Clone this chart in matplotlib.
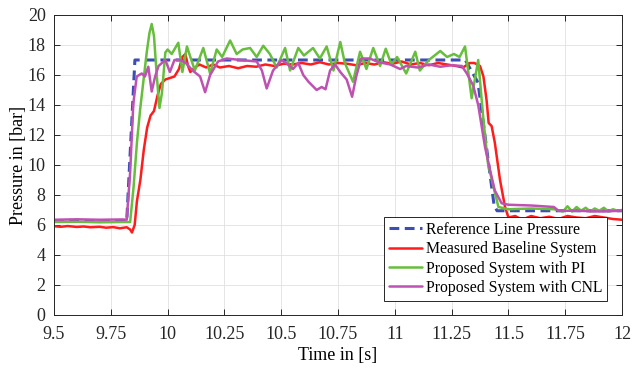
import matplotlib
matplotlib.use("Agg")
import matplotlib.pyplot as plt

# --- dados ---
t_ref = [9.5, 9.82, 9.856, 11.31, 11.366, 11.437, 11.45, 12.0]
p_ref = [6.25, 6.25, 17.0, 17.0, 15.5, 7.3, 6.95, 6.95]

t_base = [9.5, 9.53, 9.56, 9.6, 9.63, 9.66, 9.7, 9.73, 9.76, 9.79,
          9.82, 9.835, 9.843, 9.855, 9.865, 9.88, 9.895, 9.91, 9.925, 9.94,
          9.955, 9.97, 9.99, 10.01, 10.03, 10.05, 10.065, 10.078, 10.09, 10.1,
          10.12, 10.14, 10.17, 10.2, 10.23, 10.27, 10.31, 10.35, 10.39, 10.43,
          10.47, 10.51, 10.55, 10.59, 10.63, 10.67, 10.71, 10.75, 10.79, 10.83,
          10.87, 10.91, 10.95, 10.99, 11.03, 11.07, 11.11, 11.15, 11.19, 11.23,
          11.27, 11.3, 11.33, 11.35, 11.375, 11.39, 11.404, 11.413, 11.426, 11.44,
          11.463, 11.485, 11.5, 11.53, 11.56, 11.6, 11.64, 11.68, 11.72, 11.76,
          11.8, 11.84, 11.88, 11.92, 11.96, 12.0]
p_base = [5.92, 5.88, 5.93, 5.87, 5.9, 5.85, 5.88, 5.82, 5.86, 5.78,
          5.85, 5.7, 5.5, 6.0, 7.6, 9.0, 11.0, 12.5, 13.3, 13.6,
          14.6, 15.4, 15.7, 15.8, 15.9, 16.4, 17.2, 17.4, 16.6, 16.2,
          16.5, 16.7, 16.5, 16.7, 16.5, 16.6, 16.45, 16.6, 16.55, 16.7,
          16.6, 16.75, 16.7, 16.8, 16.7, 16.85, 16.7, 16.8, 16.75, 16.65,
          16.8, 16.7, 16.85, 16.75, 16.9, 16.7, 16.8, 16.65, 16.8, 16.7,
          16.6, 16.5, 16.8, 16.8, 16.6, 15.9, 14.3, 12.8, 12.6, 11.5,
          9.0, 7.2, 6.5, 6.6, 6.35, 6.6, 6.45, 6.55, 6.4, 6.6,
          6.5, 6.45, 6.6, 6.5, 6.4, 6.35]

t_pi = [9.5, 9.6, 9.7, 9.8, 9.835, 9.85, 9.865, 9.879, 9.895, 9.908,
        9.92, 9.93, 9.94, 9.952, 9.964, 9.975, 9.99, 10.0, 10.018, 10.047,
        10.065, 10.085, 10.1, 10.12, 10.157, 10.187, 10.216, 10.24, 10.275, 10.304,
        10.33, 10.363, 10.392, 10.421, 10.45, 10.48, 10.517, 10.539, 10.575, 10.6,
        10.64, 10.67, 10.70, 10.73, 10.76, 10.78, 10.816, 10.847, 10.875, 10.905,
        10.935, 10.96, 10.985, 11.01, 11.05, 11.09, 11.11, 11.15, 11.2, 11.23,
        11.26, 11.285, 11.309, 11.338, 11.367, 11.39, 11.41, 11.434, 11.456, 11.5,
        11.6, 11.7, 11.74, 11.76, 11.78, 11.8, 11.82, 11.84, 11.86, 11.88,
        11.9, 11.92, 11.94, 11.96, 11.98, 12.0]
p_pi = [6.2, 6.22, 6.18, 6.2, 6.2, 8.5, 11.5, 13.7, 15.8, 17.5,
        18.8, 19.4, 18.6, 16.0, 13.8, 14.8, 17.5, 17.7, 17.4, 18.15,
        16.2, 17.9, 17.2, 16.3, 17.8, 16.1, 17.7, 17.2, 18.3, 17.4,
        17.7, 17.8, 17.2, 17.95, 17.4, 16.5, 17.8, 16.3, 17.8, 17.3,
        17.8, 17.1, 17.9, 16.3, 18.2, 16.8, 15.55, 17.55, 16.4, 17.8,
        16.6, 17.75, 16.7, 17.2, 16.1, 17.55, 16.3, 17.0, 17.6, 17.2,
        17.4, 17.2, 17.9, 14.45, 17.0, 13.0, 10.1, 8.55, 7.2, 7.05,
        7.1, 7.05, 6.9, 7.25, 6.9, 7.2, 6.95, 7.15, 6.9, 7.1,
        6.95, 7.15, 6.9, 7.05, 6.95, 7.0]

t_cnl = [9.5, 9.6, 9.7, 9.8, 9.82, 9.835, 9.849, 9.864, 9.886, 9.9,
         9.915, 9.93, 9.945, 9.96, 9.99, 10.01, 10.03, 10.055, 10.08, 10.11,
         10.143, 10.165, 10.187, 10.222, 10.26, 10.32, 10.392, 10.415, 10.436, 10.464,
         10.502, 10.53, 10.552, 10.575, 10.597, 10.62, 10.656, 10.678, 10.695, 10.715,
         10.737, 10.76, 10.788, 10.812, 10.83, 10.852, 10.89, 10.93, 10.98, 11.023,
         11.05, 11.1, 11.15, 11.2, 11.25, 11.295, 11.317, 11.345, 11.367, 11.397,
         11.419, 11.44, 11.47, 11.5, 11.6, 11.7, 11.72, 11.8, 11.9, 12.0]
p_cnl = [6.35, 6.38, 6.35, 6.37, 6.35, 9.5, 14.1, 15.9, 16.1, 15.9,
         16.55, 14.9, 15.9, 16.6, 17.0, 16.2, 17.0, 17.0, 16.8, 16.3,
         15.9, 14.85, 16.0, 16.9, 17.1, 17.0, 16.9, 16.3, 15.1, 16.3,
         17.0, 16.7, 16.4, 16.8, 16.0, 15.55, 15.0, 15.2, 15.05, 16.3,
         16.7, 16.2, 15.7, 14.55, 15.9, 17.1, 17.1, 16.85, 16.7, 16.4,
         16.6, 16.5, 16.7, 16.55, 16.65, 16.6, 16.1, 15.3, 14.0, 11.2,
         9.67, 8.3, 7.45, 7.35, 7.3, 7.2, 6.95, 6.95, 6.9, 6.95]

x_ticks = [9.5, 9.75, 10, 10.25, 10.5, 10.75, 11, 11.25, 11.5, 11.75, 12]
x_labels = ["9.5", "9.75", "10", "10.25", "10.5", "10.75", "11", "11.25", "11.5", "11.75", "12"]

# --- plotagem ---
plt.rcParams['font.family'] = ['Liberation Serif', 'DejaVu Serif']
plt.rcParams['font.size'] = 13

fig = plt.figure(figsize=(6.37, 3.73), dpi=100)
ax = fig.add_axes([0.0848, 0.1555, 0.8917, 0.8043])

estilo = dict(lw=1.8, solid_joinstyle='round', solid_capstyle='round')
ax.plot(t_ref, p_ref, color='#3C4DB5', lw=2.2, ls=(0, (3.2, 1.8)), label='Reference Line Pressure')
ax.plot(t_base, p_base, color='#FF1C1C', label='Measured Baseline System', **estilo)
ax.plot(t_pi, p_pi, color='#66BE3C', label='Proposed System with PI', **estilo)
ax.plot(t_cnl, p_cnl, color='#BE52B2', label='Proposed System with CNL', **estilo)

ax.set_xlim(9.5, 12)
ax.set_ylim(0, 20)
ax.set_xticks(x_ticks)
ax.set_xticklabels(x_labels)
ax.set_yticks(range(0, 21, 2))
ax.tick_params(direction='in', top=True, right=True, length=4, width=0.7, colors='#262626')
ax.tick_params(axis='x', pad=8)
ax.tick_params(axis='y', pad=6)
ax.grid(True, color='#e0e0e0', lw=0.6)
ax.set_axisbelow(True)
for s in ax.spines.values():
    s.set_color('#262626')
    s.set_linewidth(0.7)

ax.set_xlabel('Time in [s]', labelpad=3)
ax.set_ylabel('Pressure in [bar]', labelpad=0.5)

leg = ax.legend(loc='lower right', bbox_to_anchor=(0.9736, 0.0477), fontsize=11.3,
                fancybox=False, framealpha=1, edgecolor='#262626',
                handlelength=2.1, handletextpad=0.25, labelspacing=0.22,
                borderpad=0.3, borderaxespad=0)
leg.get_frame().set_linewidth(0.7)

plt.savefig('out.png', dpi=100)
plt.close()
